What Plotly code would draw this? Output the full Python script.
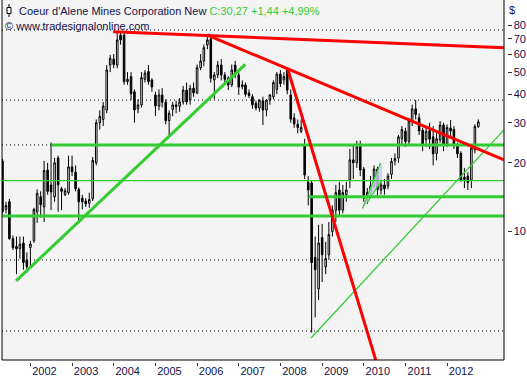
import plotly.graph_objects as go
import pandas as pd
import math

# ---------------- data (monthly candles, May 2001 .. Oct 2012) ----------------
start_month = "2001-05-01"
opens = [20.4, 12.5, 13.5, 9.3, 8.6, 8.4, 8.9, 7.5, 8.5,
         9.1, 12.2, 14.2, 12.8, 18.6, 16.0, 14.2, 21.0, 15.4, 14.5, 14.8, 19.2,
         18.2, 15.3, 14.0, 13.6, 13.3, 13.9, 20.0, 30.0, 31.0, 34.1, 53.7, 57.0,
         53.7, 72.7, 72.7, 45.4, 47.8, 41.0, 34.5, 35.9, 46.5, 50.3, 46.2, 39.7,
         35.5, 39.7, 36.9, 30.6, 34.3, 35.9, 35.4, 37.0, 41.7, 37.7, 42.5, 40.5,
         52.3, 56.0, 65.8, 70.0, 46.2, 48.6, 53.7, 48.6, 47.0, 44.0, 53.7, 48.6,
         44.0, 43.9, 40.5, 39.0, 36.5, 34.8, 37.4, 34.1, 37.7, 39.0, 42.0, 49.0,
         46.2, 51.1, 39.7, 31.5, 29.5, 27.5, 24.0, 16.5, 16.3, 7.7, 5.6, 9.4,
         7.0, 7.9, 10.0, 12.4, 15.2, 12.4, 14.5, 16.8, 20.6, 20.0, 23.6, 18.8,
         14.0, 14.8, 15.8, 18.8, 15.2, 16.0, 15.8, 17.8, 20.4, 21.0, 25.5, 27.5,
         24.8, 30.5, 34.5, 31.5, 27.8, 25.3, 27.7, 26.0, 22.0, 25.2, 29.3, 24.2,
         28.4, 28.0, 23.8, 22.0, 17.3, 17.5, 16.8, 22.8, 28.83]
highs = [20.8, 13.5, 13.9, 9.6, 9.5, 9.5, 9.5, 8.1, 9.1,
         12.7, 15.3, 15.0, 20.4, 20.0, 24.6, 21.0, 21.5, 15.7, 15.5, 21.5, 21.5,
         19.5, 15.6, 14.5, 14.0, 14.8, 21.2, 31.0, 34.0, 37.0, 53.7, 59.5, 60.0,
         75.0, 75.0, 74.0, 50.0, 50.0, 42.0, 38.0, 50.0, 51.1, 53.7, 47.0, 41.0,
         42.0, 42.5, 38.0, 34.0, 37.0, 37.5, 38.5, 43.5, 45.0, 44.0, 45.0, 54.0,
         60.0, 66.0, 72.7, 73.0, 50.0, 56.0, 57.0, 50.0, 48.0, 54.0, 56.0, 50.0,
         46.0, 45.0, 42.0, 40.0, 37.5, 38.0, 39.0, 38.0, 40.0, 46.0, 50.0, 51.0,
         50.0, 52.5, 42.0, 33.0, 31.0, 31.0, 25.5, 17.5, 16.8, 9.5, 10.7, 10.8,
         9.0, 11.0, 13.0, 16.0, 16.5, 16.0, 16.5, 23.0, 24.0, 25.0, 25.0, 19.2,
         15.5, 17.5, 19.5, 19.2, 16.5, 17.0, 18.0, 21.0, 22.0, 26.5, 29.0, 28.5,
         31.5, 36.0, 37.7, 33.0, 28.5, 29.0, 30.0, 29.0, 27.0, 30.5, 30.0, 29.5,
         30.8, 29.0, 24.5, 22.5, 19.0, 18.2, 23.5, 29.5, 31.0]
lows = [12.0, 12.0, 9.2, 8.3, 6.5, 7.6, 6.8, 6.6, 7.0,
        8.9, 10.9, 11.5, 11.0, 14.5, 12.4, 13.5, 12.2, 12.4, 14.3, 14.5, 17.5,
        15.0, 11.2, 12.5, 12.8, 12.7, 13.6, 19.5, 28.0, 29.0, 33.0, 50.0, 52.0,
        52.0, 66.0, 44.0, 44.0, 37.7, 30.0, 33.0, 35.0, 45.0, 44.0, 41.0, 32.1,
        34.0, 35.0, 29.5, 26.5, 32.0, 33.0, 33.5, 36.0, 36.0, 36.0, 39.0, 40.0,
        51.0, 53.0, 63.0, 45.0, 38.0, 47.0, 46.0, 44.0, 41.7, 43.0, 47.0, 39.7,
        42.0, 39.0, 38.5, 34.5, 34.0, 33.5, 29.3, 32.0, 36.0, 38.0, 40.0, 43.0,
        44.0, 40.0, 30.0, 28.5, 27.0, 27.0, 17.0, 13.0, 3.6, 4.2, 5.0, 6.0,
        6.5, 7.5, 9.5, 11.0, 11.8, 12.0, 13.5, 15.5, 17.0, 19.0, 17.5, 13.5,
        13.2, 14.2, 15.5, 14.3, 14.5, 14.5, 15.3, 17.0, 19.5, 20.0, 24.0, 23.5,
        24.0, 29.0, 31.0, 26.5, 22.5, 23.5, 23.0, 19.5, 20.5, 24.5, 22.5, 23.5,
        26.0, 23.0, 21.0, 16.5, 15.5, 15.2, 15.5, 22.0, 28.5]
closes = [12.2, 13.0, 9.3, 8.5, 8.4, 8.8, 7.3, 7.0, 8.8,
          12.5, 14.7, 13.1, 18.5, 15.0, 14.9, 20.0, 16.0, 15.0, 15.1, 19.2, 18.3,
          15.4, 13.5, 13.5, 13.2, 13.8, 20.5, 30.0, 32.0, 35.5, 51.1, 57.5, 54.0,
          69.2, 69.2, 45.4, 46.5, 40.2, 34.1, 35.9, 47.3, 49.5, 45.4, 43.0, 35.5,
          39.7, 36.9, 30.6, 33.0, 35.9, 35.3, 37.0, 41.7, 37.0, 42.5, 40.5, 52.3,
          55.9, 64.0, 69.2, 47.0, 48.6, 53.7, 48.6, 46.5, 43.9, 51.1, 48.6, 43.0,
          43.2, 40.0, 39.5, 35.9, 34.8, 37.7, 34.1, 37.7, 39.7, 45.0, 49.0, 44.5,
          47.8, 41.7, 31.1, 29.6, 28.6, 28.6, 17.7, 15.2, 7.3, 6.8, 8.9, 7.9,
          7.6, 9.7, 12.4, 14.8, 12.4, 14.8, 15.2, 20.6, 20.0, 23.5, 18.6, 14.0,
          14.8, 15.8, 18.8, 15.3, 16.0, 15.4, 17.5, 20.3, 20.9, 26.0, 28.0, 24.8,
          30.5, 34.5, 32.6, 27.6, 24.0, 27.5, 25.4, 21.9, 25.5, 29.3, 24.2, 28.6,
          27.6, 23.8, 21.9, 16.8, 16.9, 16.4, 23.2, 28.83, 30.27]
dates = pd.date_range(start_month, periods=len(closes), freq="MS")

year_ticks = [f"{y}-01-01" for y in range(2002, 2013)]
year_labels = [str(y) for y in range(2002, 2013)]
price_ticks = [10, 20, 30, 40, 50, 60, 70, 80]

# drawn tools (trend lines and levels), (date, price)
x_start, x_end = "2001-04-27", "2013-05-14"
red_lines = [
    [("2003-12-27", 75.2), (x_end, 63.9)],
    [("2006-03-29", 72.8), (x_end, 20.6)],
    [("2008-03-03", 52.0), ("2010-05-12", 2.47)],
]
green_thick_lines = [
    [("2001-08-28", 6.07), ("2007-02-27", 54.1)],
    [("2002-07-09", 23.96), (x_end, 23.96)],
    [("2008-09-08", 14.21), (x_end, 14.21)],
    [(x_start, 11.70), (x_end, 11.70)],
]
green_thin_lines = [
    [(x_start, 16.70), (x_end, 16.70)],
    [("2008-09-26", 3.41), (x_end, 27.9)],
    [("2009-12-21", 12.61), ("2010-05-27", 19.97)],
    [("2010-01-30", 13.34), ("2010-06-09", 16.82)],
]
channel = [("2009-12-21", 12.61), ("2010-05-27", 19.97), ("2010-06-09", 19.77),
           ("2010-06-09", 16.82), ("2010-01-30", 13.34), ("2009-12-21", 12.61)]
dotted_levels = [76.5, 37.7, 23.96, 7.5, 3.66]

NAVY = "#12124a"
GREEN = "#33cc33"
RED = "#ff0000"
W, H = 527, 378
L, R, B = 2, 504, 360

fig = go.Figure()

for v in dotted_levels:
    fig.add_trace(go.Scatter(x=[x_start, x_end], y=[v, v], mode="lines",
                             line=dict(color="#000000", width=1, dash="1px,3px"),
                             hoverinfo="skip"))

fig.add_trace(go.Scatter(x=[p[0] for p in channel], y=[p[1] for p in channel],
                         mode="lines", fill="toself", fillcolor="rgba(200,205,238,0.85)",
                         line=dict(width=0), hoverinfo="skip"))

fig.add_trace(go.Candlestick(
    x=dates, open=opens, high=highs, low=lows, close=closes,
    increasing=dict(line=dict(color="black", width=1), fillcolor="white"),
    decreasing=dict(line=dict(color="black", width=1), fillcolor="black"),
    whiskerwidth=0, hoverinfo="skip"))

for seg in green_thin_lines:
    fig.add_trace(go.Scatter(x=[p[0] for p in seg], y=[p[1] for p in seg], mode="lines",
                             line=dict(color=GREEN, width=1.3), hoverinfo="skip"))
for seg in green_thick_lines:
    fig.add_trace(go.Scatter(x=[p[0] for p in seg], y=[p[1] for p in seg], mode="lines",
                             line=dict(color=GREEN, width=3), hoverinfo="skip"))
for seg in red_lines:
    fig.add_trace(go.Scatter(x=[p[0] for p in seg], y=[p[1] for p in seg], mode="lines",
                             line=dict(color=RED, width=3), hoverinfo="skip"))

def px(xp):
    return xp / W

def py(yp):
    return (H - yp) / H

shapes = [
    dict(type="line", xref="paper", yref="paper", x0=px(L), x1=px(L), y0=py(B), y1=1,
         line=dict(color="black", width=1)),
    dict(type="line", xref="paper", yref="paper", x0=px(R), x1=px(R), y0=py(B), y1=1,
         line=dict(color="black", width=1)),
    dict(type="line", xref="paper", yref="paper", x0=px(L), x1=px(R), y0=py(B), y1=py(B),
         line=dict(color="black", width=1)),
    # small candle icon before the title
    dict(type="line", xref="paper", yref="paper", x0=px(9), x1=px(9), y0=py(4), y1=py(17),
         line=dict(color="black", width=1)),
    dict(type="rect", xref="paper", yref="paper", x0=px(7), x1=px(11), y0=py(13.5), y1=py(7.5),
         line=dict(color="black", width=1), fillcolor="white"),
]

annotations = [
    dict(xref="paper", yref="paper", x=px(17), y=py(10.5), xanchor="left", yanchor="middle",
         showarrow=False, font=dict(size=11, color=NAVY),
         text="Coeur d'Alene Mines Corporation New <span style='color:%s'>C:30,27 +1,44 +4,99%%</span>" % GREEN),
    dict(xref="paper", yref="paper", x=px(3), y=py(26), xanchor="left", yanchor="middle",
         showarrow=False, font=dict(size=11, color=NAVY), text="© www.tradesignalonline.com"),
    dict(xref="paper", yref="paper", x=px(512), y=py(10), xanchor="center", yanchor="middle",
         showarrow=False, font=dict(size=11, color=NAVY), text="$"),
]

fig.update_layout(
    width=W, height=H, margin=dict(l=0, r=0, t=0, b=0, autoexpand=False),
    paper_bgcolor="white", plot_bgcolor="#f4f4f4", showlegend=False,
    font=dict(family="Liberation Sans, Arial, sans-serif", size=11, color=NAVY),
    shapes=shapes, annotations=annotations,
    xaxis=dict(domain=[px(L), px(R)], type="date", range=[x_start, x_end],
               anchor="free", position=py(362), showline=False, showgrid=False,
               zeroline=False, tickmode="array", tickvals=year_ticks, ticktext=year_labels,
               ticks="outside", ticklen=3, tickwidth=1, tickcolor="#333333",
               ticklabelshift=14, ticklabelstandoff=-4,
               tickfont=dict(size=11, color=NAVY),
               rangeslider=dict(visible=False), automargin=False, fixedrange=True),
    yaxis=dict(domain=[py(B), 1], type="log",
               range=[math.log10(2.73), math.log10(103.6)],
               side="right", anchor="free", position=px(506.5), showline=False,
               showgrid=False, zeroline=False, tickmode="array", tickvals=price_ticks,
               ticktext=[str(v) for v in price_ticks], ticks="outside", ticklen=4,
               tickwidth=1, tickcolor="#333333", tickfont=dict(size=11, color=NAVY),
               automargin=False, fixedrange=True),
)

fig.write_html("out.html", config={"displayModeBar": False},
               post_script="document.body.style.margin='0';document.body.style.overflow='hidden';")
